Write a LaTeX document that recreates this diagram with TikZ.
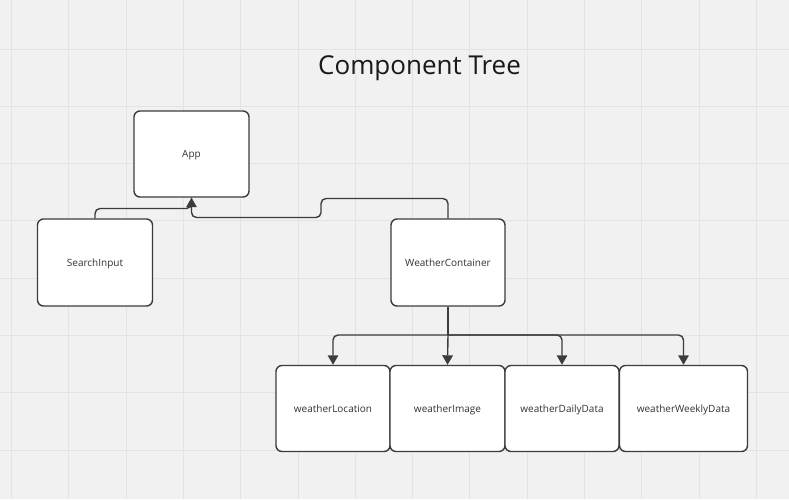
\documentclass[tikz,border=0pt]{standalone}
\usepackage{fontspec}
\setmainfont{Open Sans}
\usetikzlibrary{arrows.meta}
\definecolor{bg}{HTML}{F1F1F1}
\definecolor{gridc}{HTML}{E3E3E3}
\definecolor{ink}{HTML}{3C3C3C}
\definecolor{txt}{HTML}{333333}
\begin{document}
\begin{tikzpicture}[x=1pt,y=-1pt,
  box/.style={draw=ink,fill=white,line width=1.4pt,rounded corners=6pt,
    minimum height=86pt,inner sep=0pt,font=\fontsize{10}{12}\selectfont,text=txt,
    text depth=-1.5pt},
  conn/.style={draw=ink,line width=1.4pt,rounded corners=5pt},
  arr/.style={conn,-{Triangle[length=9.5pt,width=10.5pt]}}]
\fill[bg] (0,0) rectangle (789,499);
\useasboundingbox (0,0) rectangle (789,499);
\foreach \i in {0,...,13} \draw[gridc,line width=1pt] ({11.5+57.3*\i},0) -- ({11.5+57.3*\i},499);
\foreach \i in {-1,...,8} \draw[gridc,line width=1pt] (0,{49+57.3*\i}) -- (789,{49+57.3*\i});
\node[text=black!90,font=\fontsize{26}{30}\selectfont] (title) at (419.5,68.5) {Component Tree};
\node[box,minimum width=115pt] (app) at (191.5,154) {App};
\node[box,minimum width=115pt,minimum height=87pt] (si) at (95,262.5) {SearchInput};
\node[box,minimum width=114pt,minimum height=87pt] (wc) at (448,262.5) {WeatherContainer};
\node[box,minimum width=114pt] (loc) at (333,408.5) {weatherLocation};
\node[box,minimum width=115pt] (img) at (447.5,408.5) {weatherImage};
\node[box,minimum width=114pt] (day) at (562,408.5) {weatherDailyData};
\node[box,minimum width=128pt] (week) at (683.5,408.5) {weatherWeeklyData};
\coordinate (j) at (448,335);
\draw[conn] (si.north) |- (150,208.5) -| (app.south);
\draw[arr] (wc.north) |- (321,198.5) -- (321,217.5) -| (app.south);
\draw[conn] (wc.south) -- (j);
\draw[arr] (j) -| (loc.north);
\draw[arr] (j) -- (img.north);
\draw[arr] (j) -| (day.north);
\draw[arr] (j) -| (week.north);
\end{tikzpicture}
\end{document}
